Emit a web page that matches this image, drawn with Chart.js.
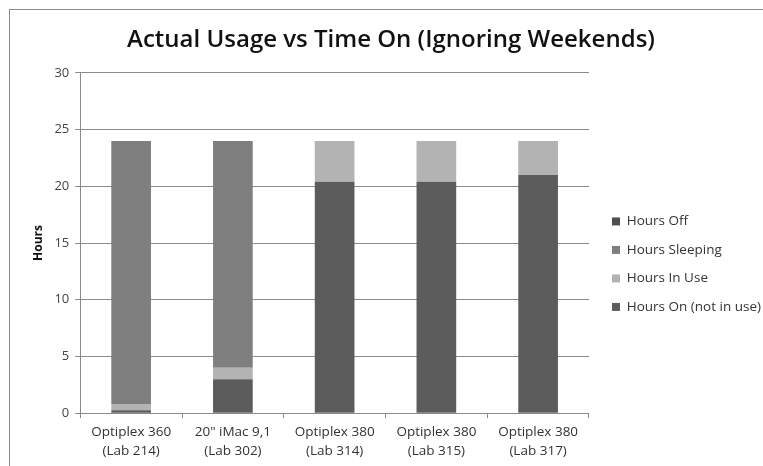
<!DOCTYPE html>
<html>
<head>
<meta charset="utf-8">
<script src="https://cdn.jsdelivr.net/npm/chart.js@4/dist/chart.umd.min.js"></script>
<style>
  html, body { margin: 0; padding: 0; background: #fff; }
  #wrap { width: 763px; height: 466px; }
</style>
</head>
<body>
<div id="wrap"><canvas id="myChart" width="763" height="466"></canvas></div>
<script>
const labels = [
  ['Optiplex 360', '(Lab 214)'],
  ['20" iMac 9,1', '(Lab 302)'],
  ['Optiplex 380', '(Lab 314)'],
  ['Optiplex 380', '(Lab 315)'],
  ['Optiplex 380', '(Lab 317)']
];
const hoursOnNotInUse = [0.25, 3, 20.4, 20.4, 21];
const hoursInUse = [0.55, 1, 3.6, 3.6, 3];
const hoursSleeping = [23.2, 20, 0, 0, 0];
const hoursOff = [0, 0, 0, 0, 0];

// outer frame like the excel chart border
const frame = {
  id: 'frame',
  beforeDraw: (chart) => {
    const { ctx } = chart;
    ctx.save();
    ctx.fillStyle = '#fff';
    ctx.fillRect(0, 0, chart.width, chart.height);
    ctx.strokeStyle = '#8a8a8a';
    ctx.lineWidth = 1;
    ctx.strokeRect(9.5, 9.5, chart.width + 10, chart.height + 10);
    ctx.restore();
  }
};

// nudge the legend a bit further from the plot
const legendShift = {
  id: 'legendShift',
  afterLayout: (chart) => {
    const lg = chart.legend;
    if (lg) {
      lg.left += 8;
      lg.right += 8;
    }
  }
};

const font = '"Open Sans", sans-serif';

const config = {
  type: 'bar',
  data: {
    labels: labels,
    datasets: [
      { label: 'Hours On (not in use)', data: hoursOnNotInUse, backgroundColor: '#5c5c5c' },
      { label: 'Hours In Use', data: hoursInUse, backgroundColor: '#b3b3b3' },
      { label: 'Hours Sleeping', data: hoursSleeping, backgroundColor: '#7f7f7f' },
      { label: 'Hours Off', data: hoursOff, backgroundColor: '#4f4f4f' }
    ]
  },
  options: {
    responsive: false,
    animation: false,
    barPercentage: 0.39,
    categoryPercentage: 1,
    layout: {
      padding: { top: 14, left: 19, right: 0, bottom: 0 }
    },
    scales: {
      x: {
        stacked: true,
        grid: {
          display: true,
          drawOnChartArea: false,
          color: '#8a8a8a',
          tickLength: 5,
          offset: true
        },
        border: { color: '#8a8a8a' },
        ticks: {
          color: '#333',
          font: { family: font, size: 13.5, lineHeight: 1.4 },
          maxRotation: 0,
          padding: 5
        }
      },
      y: {
        stacked: true,
        min: 0,
        max: 30,
        ticks: {
          stepSize: 5,
          color: '#444',
          font: { family: font, size: 13 },
          padding: 6
        },
        grid: {
          color: '#8a8a8a',
          tickLength: 5
        },
        border: { color: '#8a8a8a' },
        title: {
          display: true,
          text: 'Hours',
          color: '#111',
          font: { family: font, size: 12, weight: 'bold' },
          padding: { top: 12, bottom: 3 }
        }
      }
    },
    plugins: {
      title: {
        display: true,
        text: 'Actual Usage vs Time On (Ignoring Weekends)',
        color: '#111',
        font: { family: font, size: 24, weight: '600' },
        padding: { top: 12, bottom: 18 }
      },
      legend: {
        position: 'right',
        reverse: true,
        labels: {
          boxWidth: 8,
          boxHeight: 8,
          padding: 15,
          color: '#333',
          font: { family: font, size: 13.5 }
        },
        title: {
          display: true,
          text: ' ',
          padding: { top: 24, bottom: 10 }
        }
      },
      tooltip: { enabled: false }
    }
  },
  plugins: [frame, legendShift]
};

var myChart = new Chart(document.getElementById('myChart'), config);
</script>
</body>
</html>
